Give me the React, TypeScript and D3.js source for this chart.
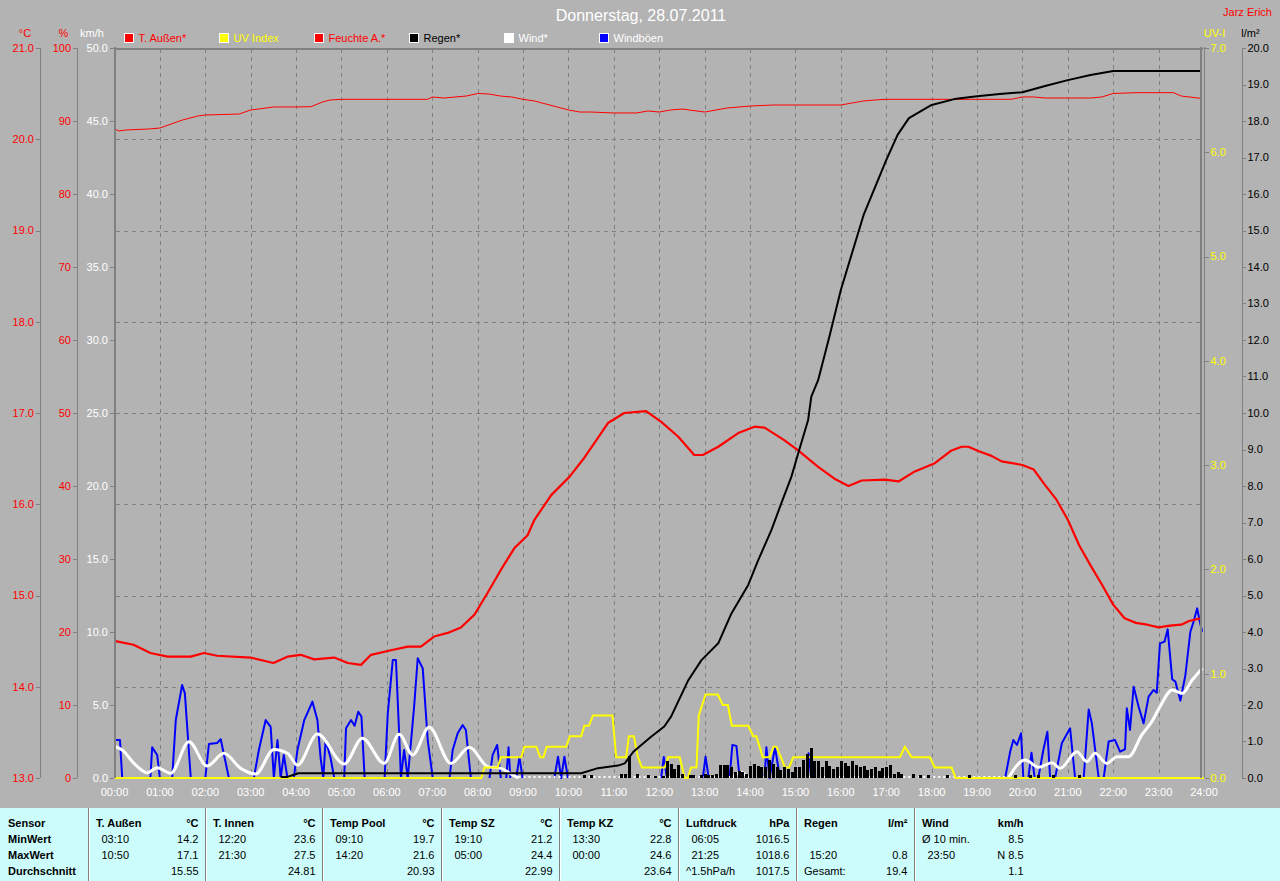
import React from 'react';
import * as d3 from 'd3';

// ---------- data ----------
const hourLabels = ["00:00","01:00","02:00","03:00","04:00","05:00","06:00","07:00","08:00","09:00","10:00","11:00","12:00","13:00","14:00","15:00","16:00","17:00","18:00","19:00","20:00","21:00","22:00","23:00","24:00"];
const tempTicks = [13, 14, 15, 16, 17, 18, 19, 20, 21];
const humTicks = [0, 10, 20, 30, 40, 50, 60, 70, 80, 90, 100];
const windTicks = [0, 5, 10, 15, 20, 25, 30, 35, 40, 45, 50];
const uvTicks = [0, 1, 2, 3, 4, 5, 6, 7];
const rainTicks = [0,1,2,3,4,5,6,7,8,9,10,11,12,13,14,15,16,17,18,19,20];

// [hour, °C]
const tempAussen: [number, number][] = [
  [0.02,14.50],[0.42,14.46],[0.79,14.37],[1.17,14.33],[1.68,14.33],[1.97,14.37],[2.26,14.34],[3.0,14.32],[3.5,14.26],[3.81,14.33],[4.1,14.35],[4.4,14.30],[4.84,14.32],[5.14,14.26],[5.43,14.24],[5.65,14.35],[6.09,14.40],[6.46,14.44],[6.75,14.44],[7.04,14.55],[7.34,14.59],[7.63,14.65],[7.93,14.79],[8.22,15.03],[8.51,15.28],[8.81,15.52],[9.1,15.66],[9.25,15.83],[9.62,16.10],[10.02,16.30],[10.35,16.51],[10.57,16.67],[10.87,16.89],[11.23,17.00],[11.71,17.02],[12.05,16.90],[12.42,16.74],[12.77,16.54],[12.96,16.54],[13.3,16.63],[13.74,16.78],[14.1,16.85],[14.32,16.84],[14.76,16.70],[15.06,16.59],[15.5,16.41],[15.86,16.28],[16.17,16.20],[16.46,16.26],[16.97,16.27],[17.27,16.25],[17.63,16.36],[18.07,16.45],[18.44,16.59],[18.66,16.63],[18.81,16.63],[19.04,16.58],[19.32,16.53],[19.54,16.47],[20.0,16.43],[20.25,16.38],[20.5,16.21],[20.75,16.05],[21.0,15.83],[21.25,15.55],[21.5,15.33],[21.75,15.12],[22.0,14.90],[22.25,14.75],[22.5,14.70],[22.75,14.68],[23.0,14.65],[23.25,14.67],[23.5,14.68],[23.67,14.72],[23.92,14.75]
];

// [hour, %]
const feuchte: [number, number][] = [
  [0,89.04],[0.08,88.63],[0.25,88.77],[0.75,88.9],[1.0,89.04],[1.25,89.59],[1.5,90.14],[1.83,90.68],[2.0,90.82],[2.75,90.96],[3.0,91.51],[3.17,91.64],[3.5,91.92],[4.0,91.92],[4.33,91.96],[4.58,92.6],[4.75,92.88],[5.0,92.97],[6.9,92.97],[7.0,93.29],[7.25,93.15],[7.75,93.42],[8.0,93.77],[8.25,93.7],[8.5,93.42],[8.75,93.29],[9.0,92.97],[9.25,92.74],[9.5,92.33],[9.75,91.92],[10.0,91.51],[10.25,91.23],[10.5,91.23],[11.0,91.1],[11.5,91.1],[11.75,91.37],[12.0,91.23],[12.25,91.51],[12.5,91.64],[13.0,91.23],[13.25,91.51],[13.5,91.78],[14.0,92.05],[14.5,92.19],[15.0,92.19],[16.0,92.19],[16.25,92.47],[16.5,92.74],[16.75,92.88],[17.0,92.97],[19.75,92.97],[20.0,93.29],[20.25,93.29],[20.5,93.15],[21.5,93.15],[21.75,93.29],[22.0,93.77],[22.5,93.88],[23.33,93.88],[23.5,93.42],[23.92,93.11]
];

// [hour, l/m² cumulative]
const regenSumme: [number, number][] = [
  [3.66,0.03],[3.81,0.03],[4.05,0.13],[10.28,0.13],[10.65,0.27],[11.09,0.34],[11.24,0.40],[11.43,0.72],[11.82,1.13],[12.11,1.41],[12.26,1.68],[12.64,2.68],[12.93,3.23],[13.3,3.69],[13.59,4.51],[13.96,5.29],[14.18,5.97],[14.47,6.79],[14.69,7.53],[14.91,8.25],[15.06,8.89],[15.28,9.81],[15.35,10.45],[15.5,10.90],[15.75,12.1],[16.0,13.37],[16.5,15.42],[17.0,16.93],[17.25,17.62],[17.5,18.08],[18.0,18.44],[18.5,18.60],[19.0,18.68],[19.5,18.74],[20.0,18.79],[20.5,18.96],[21.0,19.12],[21.5,19.26],[22.0,19.37],[23.95,19.37]
];

// [time, l/m² per 5 min]
const regenBalken: [string, number][] = [
  ["10:20",.08],["10:30",.08],["11:10",.11],["11:15",.11],["11:20",.60],["11:30",.11],["11:45",.08],["11:55",.06],["12:05",.06],["12:10",.47],["12:15",.38],["12:20",.25],["12:25",.36],["12:30",.11],["12:40",.08],["12:45",.08],["12:55",.08],["13:00",.11],["13:05",.08],["13:10",.08],["13:15",.11],["13:20",.36],["13:25",.36],["13:30",.36],["13:35",.30],["13:40",.16],["13:45",.19],["13:50",.16],["13:55",.11],["14:00",.33],["14:05",.38],["14:10",.33],["14:15",.30],["14:20",.30],["14:25",.49],["14:30",.38],["14:35",.30],["14:40",.22],["14:45",.30],["14:50",.25],["14:55",.16],["15:00",.30],["15:05",.30],["15:10",.49],["15:15",.66],["15:20",.82],["15:25",.47],["15:30",.47],["15:35",.30],["15:40",.47],["15:45",.33],["15:50",.25],["15:55",.30],["16:00",.47],["16:05",.41],["16:10",.33],["16:15",.47],["16:20",.36],["16:25",.30],["16:30",.33],["16:35",.22],["16:40",.25],["16:45",.30],["16:50",.19],["16:55",.27],["17:00",.30],["17:05",.36],["17:10",.11],["17:15",.16],["17:20",.11],["17:35",.11],["17:45",.08],["17:55",.08],["18:20",.08],["18:50",.08],["19:50",.08],["20:10",.08],["20:20",.08],["20:40",.08],["21:15",.08]
];

// [hour, UV index]
const uvIndex: [number, number][] = [
  [0,0],[8.08,0],[8.15,0.1],[8.44,0.1],[8.51,0.2],[8.96,0.2],[9.03,0.3],[9.29,0.3],[9.38,0.2],[9.45,0.2],[9.52,0.3],[9.95,0.3],[10.03,0.4],[10.28,0.4],[10.35,0.5],[10.45,0.5],[10.54,0.6],[10.97,0.6],[11.05,0.2],[11.27,0.2],[11.33,0.4],[11.44,0.4],[11.53,0.2],[11.62,0.1],[12.12,0.1],[12.2,0.2],[12.45,0.2],[12.56,0],[12.63,0],[12.7,0.1],[12.82,0.1],[12.87,0.6],[13.02,0.8],[13.29,0.8],[13.4,0.7],[13.51,0.7],[13.6,0.5],[13.96,0.5],[14.07,0.4],[14.14,0.4],[14.28,0.2],[14.43,0.2],[14.52,0.3],[14.58,0.3],[14.68,0.2],[14.77,0.1],[14.86,0.1],[14.95,0.2],[17.3,0.2],[17.41,0.3],[17.56,0.2],[17.96,0.2],[18.07,0.1],[18.44,0.1],[18.53,0],[24,0]
];

// [hour, km/h]
const windMittel: [number, number][] = [
  [0.02,2.14],[0.17,1.92],[0.43,1.0],[0.72,0.36],[0.94,0.71],[1.24,0.32],[1.64,2.49],[2.04,0.82],[2.41,1.69],[2.78,0.66],[3.11,0.27],[3.51,1.96],[3.81,1.69],[4.03,0.89],[4.47,3.01],[5.06,0.96],[5.46,2.72],[5.94,1.0],[6.27,2.99],[6.57,1.58],[6.93,3.47],[7.41,1.0],[7.82,2.1],[8.22,0.78],[8.51,0.66],[8.74,0.27],[8.9,0],[13.6,0],[13.8,0.4],[13.96,0],[19.69,0],[20.06,1.23],[20.36,0.73],[20.65,1.05],[20.83,0.66],[21.2,1.8],[21.42,1.12],[21.6,1.69],[21.86,1.0],[22.08,1.46],[22.34,1.46],[22.63,2.95],[22.85,3.86],[23.03,4.88],[23.3,6.03],[23.52,5.8],[23.74,6.71],[23.96,7.51]
];

// [hour, km/h]
const windBoeen: [number, number][] = [
  [0.0,2.6],[0.12,2.6],[0.17,0],[0.79,0],[0.83,2.1],[0.94,1.58],[1.0,0],[1.27,0],[1.35,3.97],[1.49,6.37],[1.55,5.8],[1.68,0],[2.0,0],[2.08,2.33],[2.26,2.4],[2.34,2.65],[2.52,0],[3.07,0],[3.18,1.92],[3.33,3.97],[3.44,3.5],[3.51,0],[3.59,2.6],[3.66,0],[3.73,1.58],[3.81,0],[3.95,0],[4.03,1.92],[4.18,3.97],[4.36,5.23],[4.47,3.97],[4.54,1.37],[4.6,0],[4.65,2.6],[4.76,1.37],[4.84,0],[5.06,0],[5.1,3.4],[5.21,3.97],[5.29,3.58],[5.37,4.54],[5.44,4.2],[5.51,0],[5.95,0],[6.02,4.43],[6.13,8.08],[6.2,8.08],[6.27,3.06],[6.31,0],[6.38,1.92],[6.46,0],[6.6,4.88],[6.68,8.2],[6.79,7.51],[6.9,2.6],[7.01,0],[7.38,0],[7.45,1.92],[7.56,3.06],[7.67,3.63],[7.74,3.29],[7.85,0],[8.26,0],[8.33,1.58],[8.43,2.26],[8.51,0],[8.63,0],[8.68,2.1],[8.72,0],[8.85,0],[8.92,1.44],[8.99,0],[9.69,0],[9.77,1.46],[9.84,0],[9.91,1.46],[9.99,0],[12.04,0],[12.1,1.44],[12.17,0],[12.96,0],[13.02,1.46],[13.09,0],[13.55,0],[13.61,2.26],[13.7,2.2],[13.77,0],[14.32,0],[14.36,2.1],[14.43,0],[14.55,2.1],[14.66,0],[15.27,0],[15.29,1.69],[15.35,0],[19.62,0],[19.73,1.8],[19.8,2.6],[19.88,2.26],[19.97,3.06],[20.02,0],[20.13,0],[20.2,1.73],[20.27,0],[20.35,0],[20.46,1.9],[20.55,3.17],[20.61,0],[20.72,0],[20.87,2.4],[21.05,3.4],[21.16,0],[21.35,0],[21.46,4.7],[21.53,3.74],[21.68,0],[21.79,0],[21.9,2.5],[22.04,2.6],[22.15,1.8],[22.26,1.97],[22.3,4.77],[22.37,3.29],[22.45,6.25],[22.56,4.88],[22.67,3.74],[22.78,5.57],[22.89,6.03],[22.96,5.84],[23.03,9.22],[23.13,9.34],[23.2,10.18],[23.3,6.76],[23.37,6.6],[23.48,5.3],[23.59,7.05],[23.7,10.02],[23.77,10.7],[23.85,11.62],[23.9,10.82],[23.96,10.02]
];

const legendNames = ["T. Außen*", "UV Index", "Feuchte A.*", "Regen*", "Wind*", "Windböen"];
const legendColors = ["#ff0000", "#ffff00", "#ff0000", "#000000", "#ffffff", "#0000ff"];
const legendTextColors = ["#ff0000", "#ffff00", "#ff0000", "#000000", "#ffffff", "#ffffff"];

// statistics table
const rowLabels = ["Sensor", "MinWert", "MaxWert", "Durchschnitt"];
const sensorNames = ["T. Außen", "T. Innen", "Temp Pool", "Temp SZ", "Temp KZ", "Luftdruck", "Regen", "Wind"];
const sensorUnits = ["°C", "°C", "°C", "°C", "°C", "hPa", "l/m²", "km/h"];
const minTimes = ["03:10", "12:20", "09:10", "19:10", "13:30", "06:05", "", "Ø 10 min."];
const minValues = ["14.2", "23.6", "19.7", "21.2", "22.8", "1016.5", "", "8.5"];
const maxTimes = ["10:50", "21:30", "14:20", "05:00", "00:00", "21:25", "15:20", "23:50"];
const maxValues = ["17.1", "27.5", "21.6", "24.4", "24.6", "1018.6", "0.8", "N 8.5"];
const avgLabels = ["", "", "", "", "", "^1.5hPa/h", "Gesamt:", ""];
const avgValues = ["15.55", "24.81", "20.93", "22.99", "23.64", "1017.5", "19.4", "1.1"];

// ---------- chart ----------
const FONT = "'Liberation Sans', Arial, Helvetica, sans-serif";
const BG = "#b3b3b3";
const AX = "#808080";

function hm(s: string) {
  const [h, m] = s.split(":").map(Number);
  return h + m / 60;
}

// split a series into runs that are not flat at zero, and the flat-zero stretches
function splitZero(data: [number, number][]) {
  const runs: [number, number][][] = [];
  const zeros: [number, number][][] = [];
  let cur: [number, number][] = [data[0]];
  for (let i = 1; i < data.length; i++) {
    const a = data[i - 1], b = data[i];
    if (a[1] === 0 && b[1] === 0) {
      if (cur.length > 1) runs.push(cur);
      zeros.push([a, b]);
      cur = [b];
    } else cur.push(b);
  }
  if (cur.length > 1) runs.push(cur);
  return { runs, zeros };
}

export default function App() {
  const top = 48, bottom = 778;
  const x = d3.scaleLinear().domain([0, 24]).range([114.5, 1204]);
  const yT = d3.scaleLinear().domain([13, 21]).range([bottom, top]);
  const yH = d3.scaleLinear().domain([0, 100]).range([bottom, top]);
  const yW = d3.scaleLinear().domain([0, 50]).range([bottom, top]);
  const yU = d3.scaleLinear().domain([0, 7]).range([bottom, top]);
  const yR = d3.scaleLinear().domain([0, 20]).range([bottom, top]);

  const mk = (y: d3.ScaleLinear<number, number>, curve: d3.CurveFactory = d3.curveLinear) =>
    d3.line<[number, number]>().x(d => x(d[0])).y(d => y(d[1])).curve(curve);

  const pT = mk(yT)(tempAussen) || "";
  const pH = mk(yH)(feuchte) || "";
  const pR = mk(yR)(regenSumme) || "";
  const pU = mk(yU)(uvIndex) || "";
  const windParts = splitZero(windMittel);
  const gustParts = splitZero(windBoeen);
  const lineW = mk(yW, d3.curveMonotoneX);
  const lineB = mk(yW);

  const seps = [88, 205, 322, 441, 559, 678, 796, 914];
  const colEnd = (i: number) => (i + 1 < seps.length ? seps[i + 1] : 1030) - 6.5;
  const rowY = [823, 839, 855, 871];
  const isTime = (s: string) => /^\d\d:\d\d$/.test(s);

  return (
    <svg width={1280} height={881} style={{ position: "absolute", left: 0, top: 0, display: "block" }} fontFamily={FONT}>
      <rect x={0} y={0} width={1280} height={881} fill={BG} />

      {/* title */}
      <text x={641} y={15} dy="0.35em" textAnchor="middle" fill="#ffffff" fontSize={16}>Donnerstag, 28.07.2011</text>
      <text x={1272} y={12} dy="0.35em" textAnchor="end" fill="#ff0000" fontSize={11}>Jarz Erich</text>

      {/* unit labels */}
      <text x={25} y={33} dy="0.35em" textAnchor="middle" fill="#ff0000" fontSize={11}>°C</text>
      <text x={63.5} y={33} dy="0.35em" textAnchor="middle" fill="#ff0000" fontSize={11}>%</text>
      <text x={92} y={33} dy="0.35em" textAnchor="middle" fill="#ffffff" fontSize={11}>km/h</text>
      <text x={1214.5} y={33} dy="0.35em" textAnchor="middle" fill="#ffff00" fontSize={11}>UV-I</text>
      <text x={1250.5} y={33} dy="0.35em" textAnchor="middle" fill="#000000" fontSize={11}>l/m²</text>

      {/* legend */}
      {legendNames.map((n, i) => {
        const bx = 124 + i * 95;
        return (
          <g key={n}>
            <rect x={bx + 0.5} y={33.5} width={9} height={9} fill={legendColors[i]} stroke="#ffffff" strokeWidth={1} />
            <text x={bx + 14.5} y={38} dy="0.35em" fill={legendTextColors[i]} fontSize={11}>{n}</text>
          </g>
        );
      })}

      {/* grid */}
      <g stroke={AX} strokeWidth={1} strokeDasharray="4 4" shapeRendering="crispEdges">
        {d3.range(1, 24).map(h => (
          <line key={"v" + h} x1={Math.round(x(h)) + 0.5} x2={Math.round(x(h)) + 0.5} y1={top + 1} y2={bottom} />
        ))}
        {tempTicks.slice(1, -1).map(t => (
          <line key={"h" + t} x1={116} x2={1200} y1={Math.round(yT(t)) + 0.5} y2={Math.round(yT(t)) + 0.5} />
        ))}
      </g>

      {/* left axes */}
      <g shapeRendering="crispEdges">
        <line x1={40.5} x2={40.5} y1={top} y2={bottom} stroke={AX} />
        <line x1={77.5} x2={77.5} y1={top} y2={bottom} stroke={AX} />
        {tempTicks.map(t => (
          <line key={"tt" + t} x1={36} x2={40} y1={Math.round(yT(t)) + 0.5} y2={Math.round(yT(t)) + 0.5} stroke={AX} />
        ))}
        {humTicks.map(t => (
          <line key={"ht" + t} x1={73} x2={77} y1={Math.round(yH(t)) + 0.5} y2={Math.round(yH(t)) + 0.5} stroke={AX} />
        ))}
        {windTicks.map(t => (
          <line key={"wt" + t} x1={110} x2={114} y1={Math.round(yW(t)) + 0.5} y2={Math.round(yW(t)) + 0.5} stroke={AX} />
        ))}
        <line x1={1242} x2={1242} y1={top} y2={bottom} stroke={AX} />
        {uvTicks.map(t => (
          <line key={"ut" + t} x1={1205} x2={1209} y1={Math.round(yU(t)) + 0.5} y2={Math.round(yU(t)) + 0.5} stroke={AX} />
        ))}
        {rainTicks.map(t => (
          <line key={"rt" + t} x1={1242} x2={1246} y1={Math.round(yR(t)) + 0.5} y2={Math.round(yR(t)) + 0.5} stroke={AX} />
        ))}
      </g>
      <g fontSize={11}>
        {tempTicks.map(t => (
          <text key={"tl" + t} x={34} y={yT(t)} dy="0.35em" textAnchor="end" fill="#ff0000">{t.toFixed(1)}</text>
        ))}
        {humTicks.map(t => (
          <text key={"hl" + t} x={71} y={yH(t)} dy="0.35em" textAnchor="end" fill="#ff0000">{String(t)}</text>
        ))}
        {windTicks.map(t => (
          <text key={"wl" + t} x={108} y={yW(t)} dy="0.35em" textAnchor="end" fill="#ffffff">{t.toFixed(1)}</text>
        ))}
        {uvTicks.map(t => (
          <text key={"ul" + t} x={1210.5} y={yU(t)} dy="0.35em" fill="#ffff00">{t.toFixed(1)}</text>
        ))}
        {rainTicks.map(t => (
          <text key={"rl" + t} x={1247.5} y={yR(t)} dy="0.35em" fill="#000000">{t.toFixed(1)}</text>
        ))}
        {hourLabels.map((l, i) => (
          <text key={l} x={x(i)} y={792} dy="0.35em" textAnchor="middle" fill="#ffffff">{l}</text>
        ))}
      </g>

      {/* series */}
      <path d={pH} fill="none" stroke="#ff0000" strokeWidth={1} />
      {gustParts.runs.map((r, i) => (
        <path key={"g" + i} d={lineB(r) || ""} fill="none" stroke="#0000ff" strokeWidth={2} strokeLinejoin="round" />
      ))}
      {windParts.zeros.map((r, i) => (
        <line key={"wz" + i} x1={x(r[0][0])} x2={x(r[1][0])} y1={bottom - 1} y2={bottom - 1} stroke="#ffffff" strokeWidth={2} strokeDasharray="2 3" />
      ))}
      {windParts.runs.map((r, i) => (
        <path key={"w" + i} d={lineW(r) || ""} fill="none" stroke="#ffffff" strokeWidth={3} strokeLinejoin="round" />
      ))}
      <path d={pU} fill="none" stroke="#ffff00" strokeWidth={2} />
      <g fill="#000000" shapeRendering="crispEdges">
        {regenBalken.map(([t, v]) => (
          <rect key={t} x={Math.round(x(hm(t))) - 1} y={yR(v)} width={3} height={bottom - yR(v)} />
        ))}
      </g>
      <path d={pT} fill="none" stroke="#ff0000" strokeWidth={2.2} strokeLinejoin="round" />
      <path d={pR} fill="none" stroke="#000000" strokeWidth={2} strokeLinejoin="round" />

      {/* plot border */}
      <g stroke={AX} shapeRendering="crispEdges">
        <line x1={114.5} x2={114.5} y1={top - 1} y2={bottom} strokeWidth={2} />
        <line x1={113.5} x2={1203} y1={48.5} y2={48.5} strokeWidth={2} />
        <line x1={1201} x2={1201} y1={top - 1} y2={bottom} strokeWidth={2} />
        <line x1={1204.5} x2={1204.5} y1={top - 1} y2={bottom} strokeWidth={1.5} />
      </g>

      {/* statistics table */}
      <rect x={0} y={808} width={1280} height={73} fill="#ccfcfc" />
      <g shapeRendering="crispEdges">
        {seps.map(s => (
          <g key={"s" + s}>
            <line x1={s + 0.5} x2={s + 0.5} y1={808} y2={881} stroke={AX} />
            <line x1={s + 1.5} x2={s + 1.5} y1={808} y2={881} stroke="#ffffff" />
          </g>
        ))}
      </g>
      <g fontSize={11} fill="#000000">
        {rowLabels.map((l, r) => (
          <text key={l} x={8} y={rowY[r]} dy="0.35em" fontWeight="bold">{l}</text>
        ))}
        {sensorNames.map((n, i) => {
          const sx = seps[i];
          const ex = colEnd(i);
          const leftX = (s: string) => (isTime(s) ? sx + 13.5 : sx + 8);
          return (
            <g key={n}>
              <text x={sx + 8} y={rowY[0]} dy="0.35em" fontWeight="bold">{n}</text>
              <text x={ex} y={rowY[0]} dy="0.35em" fontWeight="bold" textAnchor="end">{sensorUnits[i]}</text>
              <text x={leftX(minTimes[i])} y={rowY[1]} dy="0.35em">{minTimes[i]}</text>
              <text x={ex} y={rowY[1]} dy="0.35em" textAnchor="end">{minValues[i]}</text>
              <text x={leftX(maxTimes[i])} y={rowY[2]} dy="0.35em">{maxTimes[i]}</text>
              <text x={ex} y={rowY[2]} dy="0.35em" textAnchor="end">{maxValues[i]}</text>
              <text x={sx + 8} y={rowY[3]} dy="0.35em">{avgLabels[i]}</text>
              <text x={ex} y={rowY[3]} dy="0.35em" textAnchor="end">{avgValues[i]}</text>
            </g>
          );
        })}
      </g>
    </svg>
  );
}
